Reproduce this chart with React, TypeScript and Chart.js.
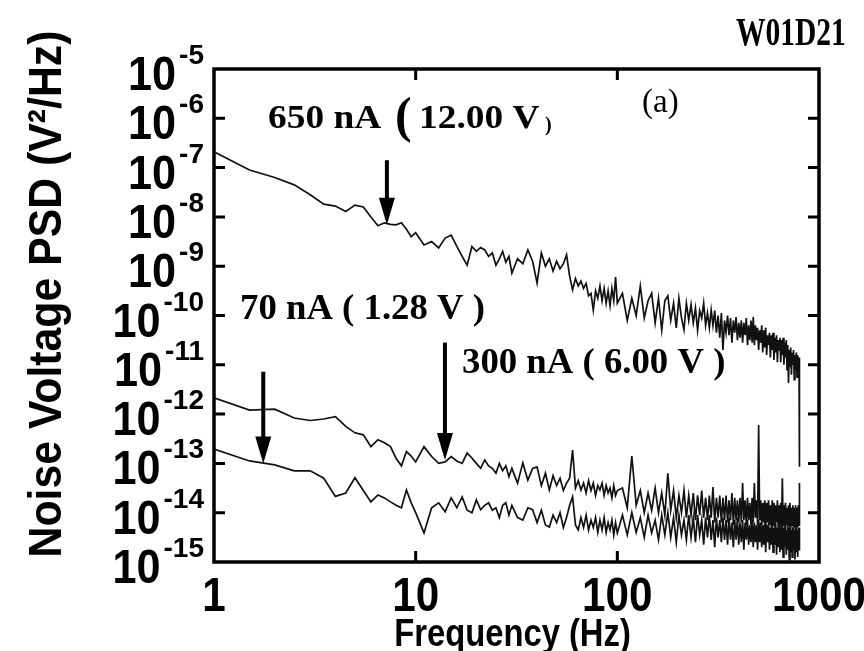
import React, { useEffect, useRef } from 'react';
import { Chart, registerables } from 'chart.js';

Chart.register(...registerables);

// ---------- data (frequency in Hz, PSD values given as log10 of V^2/Hz) ----------
const FREQ_HZ = [
  1, 1.5, 2, 2.5, 3, 3.5, 4, 4.5, 5, 5.5, 6, 6.5, 7, 7.5, 8, 8.5, 9, 9.5, 10,
  11, 12, 13, 14, 15, 16, 17, 18, 19, 20, 21, 22, 23, 24, 25, 26, 27, 28, 29, 30,
  32, 34, 36, 38, 40, 42, 44, 46, 48, 50, 52, 54, 56, 58, 60, 62, 64, 66, 68, 70,
  72, 74, 76, 78, 80, 82, 84, 86, 88, 90, 92, 94, 96, 98, 100,
  106, 112, 118, 124, 130, 136, 142, 148, 154, 160,
  166, 172, 178, 184, 190, 196, 202, 208, 214, 220,
  226, 232, 238, 244, 250, 256, 262, 268, 274, 280,
  286, 292, 298, 304, 310, 316, 322, 328, 334, 340,
  346, 352, 358, 364, 370, 376, 382, 388, 394, 400,
  406, 412, 418, 424, 430, 436, 442, 448, 454, 460,
  466, 472, 478, 484, 490, 496, 502, 508, 514, 520,
  526, 532, 538, 544, 550, 556, 562, 568, 574, 580,
  586, 592, 598, 604, 610, 616, 622, 628, 634, 640,
  646, 652, 658, 664, 670, 676, 682, 688, 694, 700,
  706, 712, 718, 724, 730, 736, 742, 748, 754, 760,
  766, 772, 778, 784, 790, 796,
  800,
];

const PSD_650NA_LOG = [
  -6.68, -7.05, -7.20, -7.35, -7.55, -7.74, -7.78, -7.89, -7.76, -7.80, -8.00, -8.18, -8.12, -8.15, -8.16, -8.12, -8.25, -8.40, -8.32,
  -8.57, -8.50, -8.63, -8.43, -8.37, -8.60, -8.80, -8.98, -8.60, -8.70, -8.62, -8.67, -8.80, -8.73, -8.98, -8.85, -8.70, -8.92, -8.80, -9.14,
  -8.85, -8.95, -8.67, -8.90, -9.34, -8.73, -9.00, -8.85, -9.10, -8.90,
  -9.05, -8.95, -8.77, -9.20, -9.48, -9.25, -9.40, -9.30, -9.45, -9.35,
  -9.60, -9.55, -9.89, -9.50, -9.65, -9.40, -9.70, -9.45, -9.75, -9.50,
  -9.80, -9.45, -9.70, -9.22, -9.75,
  -9.55, -10.10, -9.65, -10.00, -9.40, -10.05, -9.70, -9.55, -10.15, -9.65,
  -10.30, -9.70, -9.60, -10.10, -9.75, -10.25, -9.65, -10.05, -10.29, -9.75,
  -10.10, -9.78, -10.15, -9.85, -10.30, -9.90, -10.05, -9.75, -10.20, -9.95,
  -10.25, -9.89, -10.20, -9.90, -10.35, -10.00, -10.45, -9.95, -10.70, -10.10,
  -10.35, -10.00, -10.40, -10.05, -10.55, -10.10, -10.35, -10.03, -10.50, -10.15,
  -10.45, -10.10, -10.55, -10.15, -10.40, -10.05, -10.60, -10.20, -10.50, -10.10,
  -10.55, -10.03, -10.60, -10.20, -10.50, -10.25, -10.70, -10.30, -10.55, -10.20,
  -10.75, -10.30, -10.65, -10.25, -10.80, -10.40, -10.60, -10.35, -10.85, -10.40,
  -10.70, -10.35, -10.90, -10.45, -10.75, -10.40, -10.95, -10.50, -10.70, -10.45,
  -10.95, -10.50, -10.80, -10.45, -11.00, -10.55, -10.85, -10.50, -11.10, -10.60,
  -11.37, -10.70, -11.05, -10.65, -11.20, -10.75, -11.00, -10.70, -11.30, -10.80,
  -11.10, -10.75, -11.25, -10.80, -11.15, -10.85,
  -13.07,
];

const PSD_300NA_LOG = [
  -11.67, -11.92, -11.90, -12.08, -12.13, -12.10, -12.05, -12.25, -12.38, -12.42, -12.66, -12.52, -12.58, -12.66, -12.90, -13.05, -12.76, -12.85, -12.97,
  -12.66, -12.86, -13.00, -12.97, -12.86, -12.95, -13.00, -12.79, -12.89, -13.00, -13.10, -12.93, -13.05, -13.10, -13.20, -13.00, -13.15, -13.05, -13.27, -13.10,
  -13.40, -12.99, -13.34, -13.10, -13.07, -13.45, -13.20, -13.54, -13.25, -13.45,
  -13.30, -13.55, -13.40, -13.30, -12.73, -13.50, -13.35, -13.54, -13.40, -13.60,
  -13.35, -13.55, -13.40, -13.65, -13.45, -13.54, -13.40, -13.65, -13.45, -13.60,
  -13.50, -13.70, -13.45, -13.65, -13.55,
  -13.50, -13.90, -12.85, -13.85, -13.55, -14.00, -13.60, -13.95, -13.50, -14.00,
  -13.60, -14.05, -13.20, -13.95, -13.55, -14.10, -13.65, -14.00, -13.55, -14.10,
  -13.65, -14.05, -13.60, -14.15, -13.65, -14.05, -13.55, -14.10, -13.70, -14.15,
  -13.65, -14.10, -13.48, -14.20, -13.70, -14.10, -13.65, -14.20, -13.70, -14.15,
  -13.65, -14.20, -13.75, -14.15, -13.60, -14.25, -13.70, -14.15, -13.75, -14.20,
  -13.70, -14.20, -13.40, -14.15, -13.75, -14.25, -13.70, -14.15, -13.80, -14.25,
  -13.70, -14.20, -13.40, -14.10, -13.75, -14.25, -12.22, -14.15, -13.75, -14.25,
  -13.80, -14.20, -13.75, -14.30, -13.80, -14.20, -13.75, -14.25, -13.85, -14.30,
  -13.75, -14.25, -13.80, -14.30, -13.85, -14.20, -13.75, -14.30, -13.85, -14.25,
  -13.80, -14.30, -13.30, -14.25, -13.85, -14.30, -13.80, -14.25, -13.90, -14.35,
  -13.85, -14.25, -13.80, -14.35, -13.90, -14.25, -13.85, -14.35, -13.90, -14.30,
  -13.85, -14.35, -13.90, -14.30, -13.85, -14.25,
  -13.40,
];

const PSD_70NA_LOG = [
  -12.71, -12.95, -13.03, -13.15, -13.15, -13.30, -13.67, -13.60, -13.29, -13.55, -13.78, -13.64, -13.70, -13.78, -13.85, -13.90, -13.54, -13.80, -14.00,
  -14.41, -13.90, -13.80, -13.98, -13.70, -13.90, -13.68, -13.95, -14.00, -13.74, -13.94, -13.85, -13.80, -13.95, -13.90, -14.10, -13.85, -13.80, -14.05, -13.85,
  -14.10, -14.15, -13.90, -13.94, -14.20, -13.95, -14.25, -14.29, -14.05, -14.20,
  -14.00, -14.30, -14.10, -13.85, -13.68, -14.25, -14.35, -14.10, -14.30, -14.05,
  -14.35, -14.15, -14.30, -14.10, -14.40, -14.15, -14.35, -14.10, -14.40, -14.20,
  -14.35, -14.15, -14.45, -14.20, -14.41,
  -14.05, -14.45, -14.00, -14.40, -14.10, -14.50, -14.05, -14.41, -14.15, -14.55,
  -14.05, -14.45, -14.00, -14.50, -14.10, -14.60, -14.05, -14.45, -14.15, -14.55,
  -14.05, -14.50, -14.10, -14.60, -14.05, -14.45, -14.15, -14.65, -14.10, -14.50,
  -14.05, -14.55, -14.15, -14.70, -14.10, -14.50, -14.15, -14.60, -14.10, -14.55,
  -14.15, -14.65, -14.10, -14.55, -14.20, -14.70, -14.15, -14.55, -14.10, -14.65,
  -14.20, -14.60, -14.15, -14.75, -14.20, -14.55, -14.15, -14.65, -14.25, -14.60,
  -14.15, -14.70, -14.20, -14.60, -14.25, -14.75, -14.15, -14.60, -14.20, -14.70,
  -14.25, -14.65, -14.20, -14.80, -14.25, -14.60, -14.20, -14.75, -14.30, -14.65,
  -14.25, -14.80, -14.30, -14.65, -14.20, -14.85, -14.30, -14.70, -14.25, -14.80,
  -14.30, -14.75, -14.25, -14.90, -14.30, -14.70, -14.25, -14.85, -14.35, -14.75,
  -14.30, -14.95, -14.25, -14.80, -14.35, -14.90, -14.30, -14.75, -14.35, -14.95,
  -14.30, -14.80, -14.35, -14.90, -14.30, -14.75,
  -14.30,
];

// ---------- axes / labels ----------
const X_TICK_VALUES = [1, 10, 100, 1000];
const X_TICK_LABELS = ['1', '10', '100', '1000'];
const Y_TICK_EXPONENTS = [-5, -6, -7, -8, -9, -10, -11, -12, -13, -14, -15];
const Y_TICK_BASE = '10';
const X_TITLE = 'Frequency (Hz)';
const Y_TITLE = 'Noise Voltage PSD (V\u00B2/Hz)';
const SAMPLE_ID = 'W01D21';
const PANEL_TAG = '(a)';

// arrows: frequency, start (log10 PSD) and tip (log10 PSD)
const ARROW_FREQ = [7.2, 1.755, 13.97];
const ARROW_FROM_LOG = [-6.85, -11.14, -10.55];
const ARROW_TO_LOG = [-8.16, -13.0, -12.93];

const SANS = '"Liberation Sans", Arial, sans-serif';
const SERIF = '"Liberation Serif", "Times New Roman", serif';

function drawText(
  ctx: CanvasRenderingContext2D,
  text: string,
  x: number,
  y: number,
  font: string,
  sx: number,
  align: 'left' | 'center' | 'right' = 'left'
) {
  ctx.save();
  ctx.font = font;
  const w = ctx.measureText(text).width * sx;
  let left = x;
  if (align === 'center') left = x - w / 2;
  else if (align === 'right') left = x - w;
  ctx.translate(left, y);
  ctx.scale(sx, 1);
  ctx.textAlign = 'left';
  ctx.textBaseline = 'alphabetic';
  ctx.fillText(text, 0, 0);
  ctx.restore();
  return w;
}

function measure(ctx: CanvasRenderingContext2D, text: string, font: string, sx: number) {
  ctx.save();
  ctx.font = font;
  const w = ctx.measureText(text).width * sx;
  ctx.restore();
  return w;
}

const overlayPlugin = {
  id: 'overlay',
  beforeDraw(chart: any) {
    const ctx = chart.ctx as CanvasRenderingContext2D;
    ctx.save();
    ctx.fillStyle = '#ffffff';
    ctx.fillRect(0, 0, chart.width, chart.height);
    ctx.restore();
  },
  afterDatasetsDraw(chart: any) {
    const ctx = chart.ctx as CanvasRenderingContext2D;
    const a = chart.chartArea;
    const xs = chart.scales.x;
    const ys = chart.scales.y;
    ctx.save();
    ctx.fillStyle = '#000';
    ctx.strokeStyle = '#000';
    ctx.lineCap = 'butt';

    // frame
    ctx.lineWidth = 3.5;
    ctx.strokeRect(a.left, a.top, a.right - a.left, a.bottom - a.top);

    // inward ticks
    ctx.lineWidth = 3;
    ctx.beginPath();
    X_TICK_VALUES.forEach((v) => {
      const px = xs.getPixelForValue(v);
      if (px > a.left + 3 && px < a.right - 3) {
        ctx.moveTo(px, a.bottom);
        ctx.lineTo(px, a.bottom - 11);
        ctx.moveTo(px, a.top);
        ctx.lineTo(px, a.top + 11);
      }
    });
    Y_TICK_EXPONENTS.forEach((e) => {
      const py = ys.getPixelForValue(Math.pow(10, e));
      if (py > a.top + 3 && py < a.bottom - 3) {
        ctx.moveTo(a.left, py);
        ctx.lineTo(a.left + 11, py);
        ctx.moveTo(a.right, py);
        ctx.lineTo(a.right - 11, py);
      }
    });
    ctx.stroke();

    // y tick labels 10^e
    const baseFont = `bold 48px ${SANS}`;
    const supFont = `bold 28px ${SANS}`;
    const labelRight = 204;
    Y_TICK_EXPONENTS.forEach((e) => {
      const py = ys.getPixelForValue(Math.pow(10, e));
      const sup = '-' + String(Math.abs(e));
      const supW = measure(ctx, sup, supFont, 1);
      drawText(ctx, sup, labelRight - supW, py - 5, supFont, 1, 'left');
      drawText(ctx, Y_TICK_BASE, labelRight - supW - 3, py + 21, baseFont, 0.9, 'right');
    });

    // x tick labels
    X_TICK_VALUES.forEach((v, i) => {
      const px = xs.getPixelForValue(v);
      drawText(ctx, X_TICK_LABELS[i], px, a.bottom + 49, baseFont, 0.88, 'center');
    });

    // axis titles
    drawText(ctx, X_TITLE, (a.left + a.right) / 2 - 4, 646, `bold 39px ${SANS}`, 0.84, 'center');
    ctx.save();
    ctx.translate(61, 294);
    ctx.rotate(-Math.PI / 2);
    drawText(ctx, Y_TITLE, 0, 0, `bold 46px ${SANS}`, 0.93, 'center');
    ctx.restore();

    // arrows
    ARROW_FREQ.forEach((f, i) => {
      const px = xs.getPixelForValue(f);
      const y0 = ys.getPixelForValue(Math.pow(10, ARROW_FROM_LOG[i]));
      const y1 = ys.getPixelForValue(Math.pow(10, ARROW_TO_LOG[i]));
      const headH = 27;
      const headW = 16;
      ctx.lineWidth = 4;
      ctx.beginPath();
      ctx.moveTo(px, y0);
      ctx.lineTo(px, y1 - headH + 2);
      ctx.stroke();
      ctx.beginPath();
      ctx.moveTo(px - headW / 2, y1 - headH);
      ctx.lineTo(px + headW / 2, y1 - headH);
      ctx.lineTo(px, y1);
      ctx.closePath();
      ctx.fill();
    });

    // annotation texts
    const annFont = `bold 34px ${SERIF}`;
    drawText(ctx, '650 nA', 268, 128, annFont, 1.1);
    drawText(ctx, '(', 395, 132, `bold 50px ${SERIF}`, 1.0);
    drawText(ctx, '12.00 V', 419, 128, annFont, 1.1);
    drawText(ctx, ')', 545, 131, `bold 20px ${SERIF}`, 1.0);
    drawText(ctx, '70 nA ( 1.28 V )', 240, 319, `bold 35px ${SERIF}`, 1.05);
    drawText(ctx, '300 nA ( 6.00 V )', 462, 373, `bold 35px ${SERIF}`, 1.05);
    drawText(ctx, PANEL_TAG, 642, 112, `33px ${SERIF}`, 1.0);
    drawText(ctx, SAMPLE_ID, 736, 45, `bold 41px ${SERIF}`, 0.72);

    ctx.restore();
  },
};

function toPoints(logs: number[]) {
  return FREQ_HZ.map((f, i) => ({ x: f, y: Math.pow(10, logs[i]) }));
}

export default function App() {
  const canvasRef = useRef<HTMLCanvasElement | null>(null);

  useEffect(() => {
    document.body.style.margin = '0';
    const canvas = canvasRef.current;
    if (!canvas) return;
    const lineStyle = {
      showLine: true,
      borderColor: '#111111',
      backgroundColor: '#111111',
      borderWidth: 1.7,
      pointRadius: 0,
      tension: 0,
    };
    const chart = new Chart(canvas, {
      type: 'scatter',
      data: {
        datasets: [
          { label: '650 nA (12.00 V)', data: toPoints(PSD_650NA_LOG), ...lineStyle },
          { label: '300 nA (6.00 V)', data: toPoints(PSD_300NA_LOG), ...lineStyle },
          { label: '70 nA (1.28 V)', data: toPoints(PSD_70NA_LOG), ...lineStyle },
        ],
      },
      options: {
        responsive: false,
        animation: false,
        events: [],
        layout: { padding: { left: 214, top: 69, right: 45, bottom: 89 } },
        plugins: {
          legend: { display: false },
          tooltip: { enabled: false },
          title: { display: false },
        },
        scales: {
          x: { type: 'logarithmic', min: 1, max: 1000, display: false },
          y: { type: 'logarithmic', min: 1e-15, max: 1e-5, display: false },
        },
      },
      plugins: [overlayPlugin],
    } as any);
    return () => {
      chart.destroy();
    };
  }, []);

  return (
    <div style={{ width: 864, height: 651 }}>
      <canvas ref={canvasRef} width={864} height={651} style={{ display: 'block' }} />
    </div>
  );
}
